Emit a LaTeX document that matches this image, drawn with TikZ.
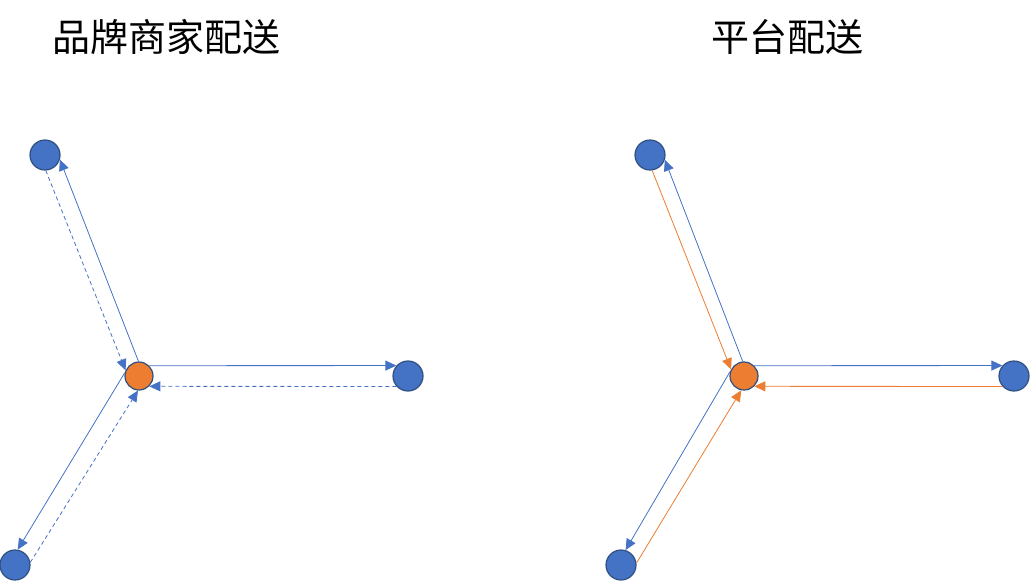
\documentclass[tikz,border=0pt]{standalone}
\usepackage{fontspec}
\newfontfamily\cjk{Noto Sans CJK SC}
\usetikzlibrary{arrows.meta}
\definecolor{siteblue}{HTML}{4472C4}
\definecolor{siteedge}{HTML}{2F4F80}
\definecolor{huborange}{HTML}{ED7D31}

\begin{document}
\begin{tikzpicture}[x=1pt,y=-1pt,
    site/.style={circle,fill=siteblue,draw=siteedge,line width=1.2pt,minimum size=30pt,inner sep=0pt},
    hub/.style={site,fill=huborange,minimum size=28pt},
    route/.style={siteblue,line width=0.8pt,-{Triangle[length=11pt,width=10pt]}},
    back/.style={route,dash pattern=on 4pt off 3pt},
    backorange/.style={route,huborange},
    title/.style={font=\cjk\fontsize{38}{42}\selectfont}]
    \useasboundingbox (0,0) rectangle (1030,582);

    % Brand merchant delivery
    \node[title] (brandtitle) at (166,37) {品牌商家配送};
    \node[hub] (bc) at (139,376) {};
    \node[site] (bt) at (45,155) {};
    \node[site] (br) at (408,376) {};
    \node[site] (bb) at (15,565) {};
    \draw[route] (bc.92) -- (bt.-17);
    \draw[back] (bt.-87) -- (bc.157);
    \draw[route] (bc.45) -- (br.138);
    \draw[back] (br.222) -- (bc.-45);
    \draw[route] (bc.167) -- (bb.80);
    \draw[back] (bb.10) -- (bc.266);

    % Platform delivery
    \node[title] (platformtitle) at (787,37) {平台配送};
    \node[hub] (pc) at (744,376) {};
    \node[site] (pt) at (650,155) {};
    \node[site] (pr) at (1014,376) {};
    \node[site] (pb) at (621,565) {};
    \draw[route] (pc.95) -- (pt.-18);
    \draw[backorange] (pt.-82) -- (pc.153);
    \draw[route] (pc.45) -- (pr.138);
    \draw[backorange] (pr.222) -- (pc.-45);
    \draw[route] (pc.162) -- (pb.73);
    \draw[backorange] (pb.7) -- (pc.259);
\end{tikzpicture}
\end{document}
